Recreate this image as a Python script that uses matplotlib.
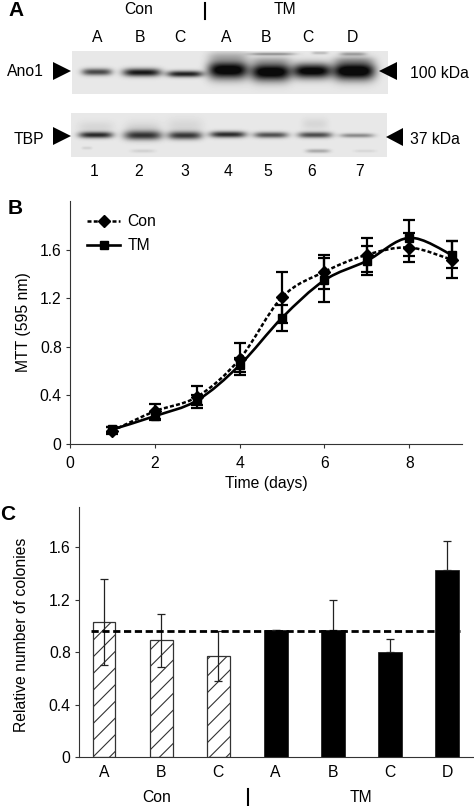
import numpy as np
import matplotlib.pyplot as plt
from matplotlib.path import Path
from matplotlib.patches import PathPatch

plt.switch_backend('agg')
plt.rcParams['font.family'] = ['Liberation Sans', 'DejaVu Sans']
plt.rcParams['font.size'] = 11.3
plt.rcParams['hatch.linewidth'] = 0.8

W, H = 474, 806

# Panel A
lane_letters = ['A', 'B', 'C', 'A', 'B', 'C', 'D']
lane_letter_x = [97, 140, 180, 226, 266, 308, 352]
lane_numbers = ['1', '2', '3', '4', '5', '6', '7']
lane_number_x = [94, 139, 185, 228, 268, 312, 360]
# x, half width, y, half thickness, darkness
ano1_bands = [
    (97, 15, 72, 3.5, .72), (142, 19, 72.5, 4, .95), (185, 18, 74, 3.2, .9),
    (228, 20, 70, 9, 1.15), (271, 20, 72, 9, 1.15), (312, 19, 71, 7.5, 1.1), (354, 21, 71, 9, 1.2),
    (228, 20, 56, 5, .18), (272, 23, 54, 1.5, .35), (320, 8, 53, 1.5, .2), (353, 13, 54, 1.8, .3),
    (271, 21, 60, 4, .12), (354, 20, 60, 4, .15),
]
tbp_bands = [
    (96, 17, 135, 3.2, .85), (143, 19, 135.5, 4.5, .75), (185, 17, 135.5, 4, .78),
    (228, 18, 134.5, 3.2, .85), (271, 17, 135, 3, .68), (315, 17, 135, 3, .7), (357, 17, 135.5, 2.2, .42),
    (143, 18, 130, 8, .12), (96, 18, 127, 6, .08), (185, 18, 126, 8, .08), (315, 13, 124, 6, .08),
    (318, 12, 151, 2, .28), (143, 12, 151, 1.8, .1), (87, 5, 148, 1.5, .1), (365, 11, 151, 1.5, .08),
]

# Panel B
days = [1, 2, 3, 4, 5, 6, 7, 8, 9]
con_mtt = [.11, .27, .39, .70, 1.21, 1.42, 1.56, 1.62, 1.52]
con_err = [.03, .06, .09, .13, .21, .14, .14, .12, .15]
tm_mtt = [.12, .23, .36, .65, 1.04, 1.35, 1.51, 1.70, 1.56]
tm_err = [.02, .03, .04, .06, .11, .18, .12, .15, .11]

# Panel C
colony_labels = ['A', 'B', 'C', 'A', 'B', 'C', 'D']
colony_values = [1.03, .89, .77, .97, .97, .80, 1.43]
colony_err = [.33, .20, .19, 0, .23, .10, .22]
reference_level = .96


def axes_px(fig, left, top, right, bottom):
    return fig.add_axes([left / W, 1 - bottom / H, (right - left) / W, (bottom - top) / H])


def smooth_path(x, y):
    # Excel style smoothed line, one bezier segment between each pair of points
    verts = [(x[0], y[0])]
    codes = [Path.MOVETO]
    for i in range(len(x) - 1):
        x0, y0 = (x[i - 1], y[i - 1]) if i > 0 else (x[i], y[i])
        x3, y3 = (x[i + 2], y[i + 2]) if i < len(x) - 2 else (x[i + 1], y[i + 1])
        verts.append((x[i] + (x[i + 1] - x0) / 6, y[i] + (y[i + 1] - y0) / 6))
        verts.append((x[i + 1] - (x3 - x[i]) / 6, y[i + 1] - (y3 - y[i]) / 6))
        verts.append((x[i + 1], y[i + 1]))
        codes += [Path.CURVE4] * 3
    return Path(verts, codes)


def draw_blot(ax, bands, left, top, right, bottom):
    xs, ys = np.meshgrid(np.arange(left, right) + .5, np.arange(top, bottom) + .5)
    dark = np.zeros_like(xs)
    for x, half_w, y, half_t, strength in bands:
        dark += strength * np.exp(-((xs - x) / half_w) ** 4) * np.exp(-((ys - y) / half_t) ** 2)
    img = .91 - .87 * np.clip(dark, 0, 1)
    ax.imshow(img, cmap='gray', vmin=0, vmax=1, extent=(left, right, bottom, top),
              interpolation='bilinear', aspect='auto', zorder=1)


def draw_panel_a(fig):
    ax = fig.add_axes([0, 0, 1, 1])
    draw_blot(ax, ano1_bands, 72, 51, 388, 94)
    draw_blot(ax, tbp_bands, 71, 113, 387, 157)
    ax.set_xlim(0, W)
    ax.set_ylim(H, 0)
    ax.axis('off')

    for px, lab in zip(lane_letter_x, lane_letters):
        ax.text(px, 37, lab, ha='center', va='center')
    for px, lab in zip(lane_number_x, lane_numbers):
        ax.text(px, 171, lab, ha='center', va='center')
    ax.text(139, 10, 'Con', ha='center', va='center')
    ax.text(285, 10, 'TM', ha='center', va='center')
    ax.plot([205, 205], [3, 19], color='black', lw=1.5)
    ax.text(25, 72, 'Ano1', ha='center', va='center')
    ax.text(29, 139, 'TBP', ha='center', va='center')
    ax.text(410, 73, '100 kDa', ha='left', va='center')
    ax.text(410, 140, '37 kDa', ha='left', va='center')

    ax.fill([53, 53, 71], [62, 80, 71], color='black', lw=0)
    ax.fill([53, 53, 71], [127, 145, 136], color='black', lw=0)
    ax.fill([397, 397, 379], [62, 80, 71], color='black', lw=0)
    ax.fill([403, 403, 386], [128, 146, 137], color='black', lw=0)

    ax.text(8, 10, 'A', fontsize=15, fontweight='bold', ha='left', va='center')
    ax.text(8, 208, 'B', fontsize=15, fontweight='bold', ha='left', va='center')
    ax.text(0, 514, 'C', fontsize=15, fontweight='bold', ha='left', va='center')


def style_axes(ax):
    ax.spines['right'].set_visible(False)
    ax.spines['top'].set_visible(False)
    ax.spines['left'].set_color('#333333')
    ax.spines['bottom'].set_color('#333333')
    ax.patch.set_alpha(0)
    ax.tick_params(length=3, width=.8, color='#333333', pad=3)


def draw_panel_b(fig):
    ax = axes_px(fig, 70, 200.7, 462, 444)
    style_axes(ax)
    ax.errorbar(days, con_mtt, yerr=con_err, fmt='none', ecolor='black', elinewidth=1.6, capsize=4.6, capthick=1.6)
    ax.errorbar(days, tm_mtt, yerr=tm_err, fmt='none', ecolor='black', elinewidth=1.6, capsize=4.6, capthick=1.6)
    ax.add_patch(PathPatch(smooth_path(days, con_mtt), fill=False, color='black', lw=1.8, ls=(0, (1.6, .9))))
    ax.add_patch(PathPatch(smooth_path(days, tm_mtt), fill=False, color='black', lw=1.9))
    ax.plot(days, con_mtt, ls='none', marker='D', color='black', ms=6)
    ax.plot(days, tm_mtt, ls='none', marker='s', color='black', ms=6)
    # legend handles only, the curves above are patches
    ax.plot([], [], color='black', lw=1.8, ls=(0, (1.6, .9)), marker='D', ms=6, label='Con')
    ax.plot([], [], color='black', lw=1.9, marker='s', ms=6, label='TM')
    ax.legend(loc='upper left', bbox_to_anchor=(.044, .945), frameon=False, handlelength=2.1,
              handletextpad=.45, labelspacing=.6, borderpad=0, borderaxespad=0)
    ax.set_xlim(0, 9.245)
    ax.set_ylim(0, 2.006)
    ax.set_xticks([0, 2, 4, 6, 8])
    ax.tick_params(axis='x', pad=5.5)
    ax.set_yticks([0, .4, .8, 1.2, 1.6])
    ax.set_yticklabels(['0', '0.4', '0.8', '1.2', '1.6'])
    ax.set_xlabel('Time (days)', labelpad=4)
    ax.set_ylabel('MTT (595 nm)', labelpad=6)


def draw_panel_c(fig):
    ax = axes_px(fig, 79, 506.7, 474, 757)
    style_axes(ax)
    pos = list(range(len(colony_values)))
    for i in pos:
        if i < 3:
            ax.bar(i, colony_values[i], width=.4, facecolor='white', edgecolor='#333333', hatch='//', lw=.9, zorder=2)
            ax.errorbar(i, colony_values[i], yerr=colony_err[i], fmt='none', ecolor='#222222',
                        elinewidth=.9, capsize=3, capthick=.9, zorder=3)
        else:
            ax.bar(i, colony_values[i], width=.42, facecolor='black', edgecolor='#222222', lw=.6, zorder=2)
            # lower half is lost inside the black bar
            ax.errorbar(i, colony_values[i], yerr=[[0], [colony_err[i]]], fmt='none', ecolor='#222222',
                        elinewidth=.9, capsize=3, capthick=.9, zorder=3)
    ax.plot([-.235, 6.23], [reference_level, reference_level], color='black', lw=2, ls=(0, (2.6, 1.3)), zorder=5)
    ax.set_xlim(-.437, 6.47)
    ax.set_ylim(0, 1.91)
    ax.set_xticks(pos)
    ax.set_xticklabels(colony_labels)
    ax.tick_params(axis='x', length=0, pad=5.5)
    ax.set_yticks([0, .4, .8, 1.2, 1.6])
    ax.set_yticklabels(['0', '0.4', '0.8', '1.2', '1.6'])
    ax.set_ylabel('Relative number of colonies', labelpad=14, y=.49)
    fig.text(157 / W, 1 - 797 / H, 'Con', ha='center', va='center')
    fig.text(361 / W, 1 - 797 / H, 'TM', ha='center', va='center')
    fig.add_artist(plt.Line2D([247.5 / W, 247.5 / W], [1 - 789 / H, 1 - 805 / H], color='black', lw=1.5))


if __name__ == "__main__":
    fig = plt.figure(figsize=(W / 100, H / 100), dpi=100)
    draw_panel_a(fig)
    draw_panel_b(fig)
    draw_panel_c(fig)
    fig.savefig('out.png', dpi=100)
